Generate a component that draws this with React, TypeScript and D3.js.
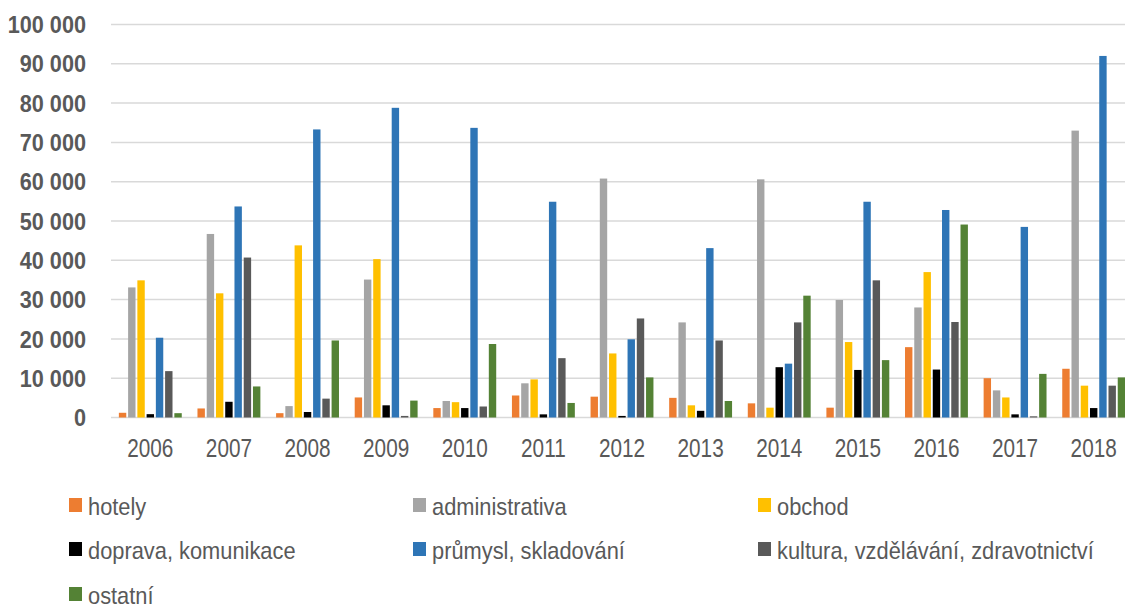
import React from 'react';
import * as d3 from 'd3';

const years = ['2006', '2007', '2008', '2009', '2010', '2011', '2012', '2013', '2014', '2015', '2016', '2017', '2018'];
const seriesNames = ['hotely', 'administrativa', 'obchod', 'doprava, komunikace', 'průmysl, skladování', 'kultura, vzdělávání, zdravotnictví', 'ostatní'];
const colors = ['#ED7D31', '#A5A5A5', '#FFC000', '#000000', '#2E75B6', '#595959', '#548235'];

const hotely = [1200, 2300, 1100, 5100, 2400, 5600, 5300, 5000, 3600, 2500, 17900, 10000, 12400];
const administrativa = [33100, 46700, 2900, 35100, 4200, 8700, 60800, 24200, 60600, 29900, 28000, 6900, 73000];
const obchod = [34900, 31600, 43800, 40300, 3900, 9700, 16300, 3100, 2500, 19200, 37000, 5100, 8100];
const doprava = [850, 4000, 1400, 3100, 2400, 800, 400, 1700, 12800, 12100, 12200, 800, 2400];
const prumysl = [20300, 53700, 73300, 78800, 73700, 54900, 19900, 43100, 13700, 54900, 52800, 48500, 92000];
const kultura = [11800, 40700, 4800, 400, 2800, 15100, 25200, 19600, 24200, 34900, 24300, 300, 8100];
const ostatni = [1100, 7900, 19600, 4300, 18700, 3700, 10200, 4200, 31000, 14600, 49100, 11100, 10200];

const yTicks = [0, 10000, 20000, 30000, 40000, 50000, 60000, 70000, 80000, 90000, 100000];

const allSeries = [hotely, administrativa, obchod, doprava, prumysl, kultura, ostatni];

const W = 1125;
const H = 608;
const font = '"Liberation Sans", Arial, sans-serif';
const textColor = '#595959';

function fmt(v: number) {
  return d3.format(',')(v).replace(/,/g, ' ');
}

// text squeezed horizontally to look like the narrow font of the original
function Narrow(props: {x: number; y: number; sx: number; size: number;
  anchor?: string; bold?: boolean; children: React.ReactNode}) {
  return (
    <g transform={`translate(${props.x},${props.y}) scale(${props.sx},1)`}>
      <text textAnchor={props.anchor || 'start'} fontFamily={font}
        fontSize={props.size} fontWeight={props.bold ? 'bold' : 'normal'}
        fill={textColor}>
        {props.children}
      </text>
    </g>
  );
}

export default function App() {
  const y = d3.scaleLinear().domain([0, 100000]).range([417.5, 24.5]);
  const x = d3.scaleBand().domain(years).range([111, 1133]).padding(0);
  const gw = x.bandwidth();
  const inner = d3.scaleBand<number>()
      .domain(d3.range(seriesNames.length))
      .range([gw * 0.1, gw * 0.9])
      .paddingInner(0.2)
      .paddingOuter(0);

  const legendCols = [69, 413, 758];
  const legendRows = [515, 559, 604];

  return (
    <svg width={W} height={H} style={{position: 'absolute', left: 0, top: 0, background: '#fff'}}>
      {/* gridlines */}
      {yTicks.map((t) => (
        <line key={t} x1={111} x2={W} y1={y(t)} y2={y(t)}
          stroke="#D9D9D9" strokeWidth={1.5} />
      ))}
      {/* y labels */}
      {yTicks.map((t) => (
        <Narrow key={'l' + t} x={86} y={y(t) + 8.6} sx={0.93} size={23.3}
          anchor="end" bold>
          {fmt(t)}
        </Narrow>
      ))}
      {/* bars */}
      {years.map((yr, i) => (
        <g key={yr} transform={`translate(${x(yr)},0)`}>
          {allSeries.map((s, j) => (
            <rect key={j} x={inner(j)} width={inner.bandwidth()}
              y={y(s[i])} height={y(0) - y(s[i])} fill={colors[j]} />
          ))}
        </g>
      ))}
      {/* x labels */}
      {years.map((yr) => (
        <Narrow key={'x' + yr} x={(x(yr) as number) + gw / 2} y={457} sx={0.83}
          size={25} anchor="middle">
          {yr}
        </Narrow>
      ))}
      {/* legend */}
      {seriesNames.map((name, k) => {
        const cx = legendCols[k % 3];
        const base = legendRows[Math.floor(k / 3)];
        return (
          <g key={name}>
            <rect x={cx} y={base - 17} width={13} height={14} fill={colors[k]} />
            <Narrow x={cx + 19} y={base} sx={0.91} size={24}>
              {name}
            </Narrow>
          </g>
        );
      })}
    </svg>
  );
}
